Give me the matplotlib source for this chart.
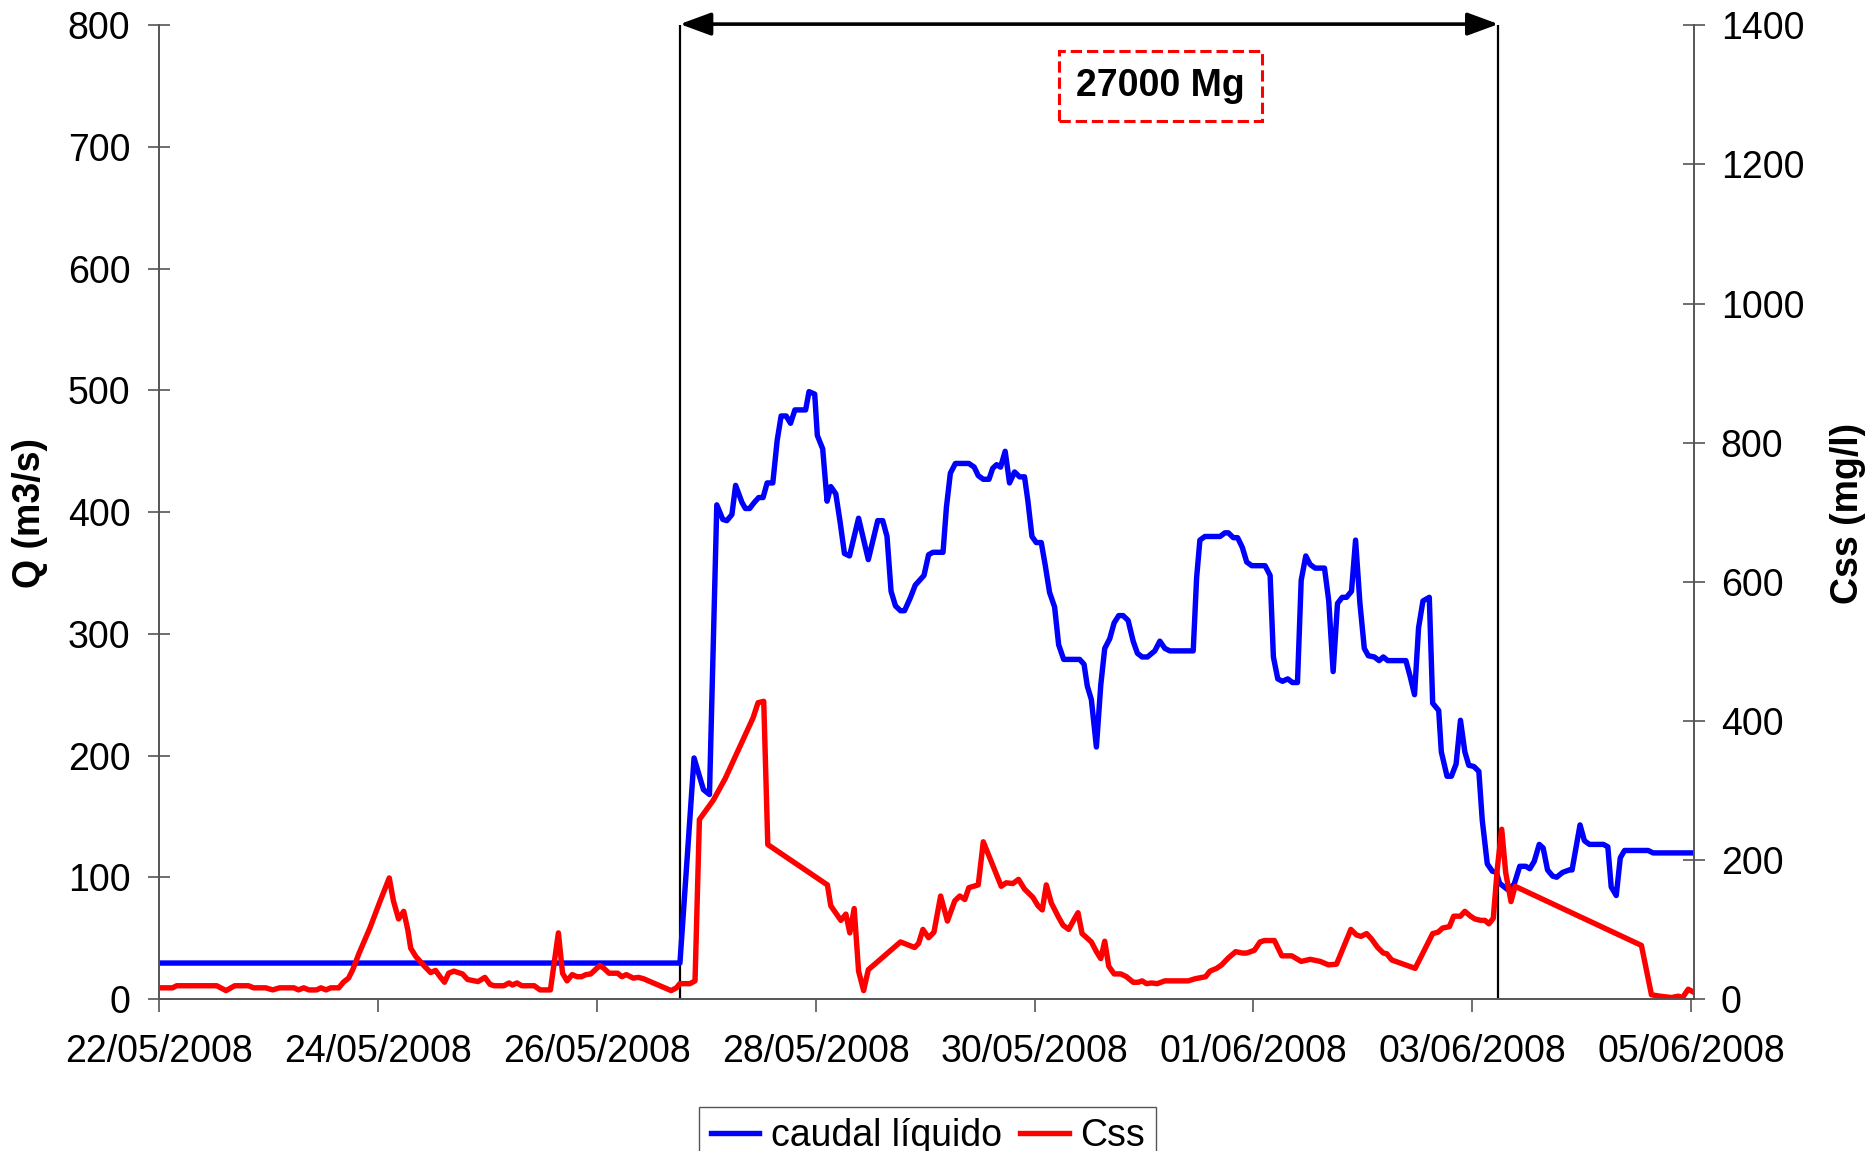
import matplotlib
matplotlib.use("Agg")
import matplotlib.pyplot as plt

plt.rcParams['font.family'] = ['Liberation Sans', 'DejaVu Sans']

# days since 22/05/2008
q_days = [0.0, 4.758, 4.887, 4.973, 5.028, 5.095, 5.150, 5.187, 5.233, 5.267, 5.325, 5.356,
          5.395, 5.438, 5.478, 5.518, 5.555, 5.607, 5.647, 5.683, 5.729, 5.769, 5.809, 5.907,
          5.938, 5.990, 6.014, 6.063, 6.103, 6.137, 6.183, 6.222, 6.262, 6.308, 6.391, 6.480,
          6.566, 6.612, 6.651, 6.688, 6.728, 6.774, 6.811, 6.866, 6.909, 6.949, 6.989, 7.031,
          7.071, 7.163, 7.194, 7.230, 7.276, 7.399, 7.448, 7.485, 7.531, 7.583, 7.617, 7.653,
          7.689, 7.731, 7.771, 7.817, 7.863, 7.908, 7.939, 7.976, 8.015, 8.061, 8.098, 8.137,
          8.183, 8.220, 8.266, 8.412, 8.452, 8.482, 8.519, 8.565, 8.605, 8.641, 8.687, 8.727,
          8.769, 8.809, 8.855, 8.901, 8.940, 8.983, 9.032, 9.099, 9.145, 9.191, 9.237, 9.450,
          9.481, 9.511, 9.557, 9.695, 9.740, 9.771, 9.817, 9.856, 9.899, 9.939, 9.985, 10.107,
          10.153, 10.183, 10.223, 10.266, 10.314, 10.357, 10.403, 10.437, 10.479, 10.519,
          10.565, 10.650, 10.689, 10.729, 10.769, 10.812, 10.851, 10.897, 10.934, 10.974,
          11.014, 11.051, 11.106, 11.149, 11.188, 11.228, 11.394, 11.433, 11.473, 11.510,
          11.550, 11.608, 11.639, 11.694, 11.718, 11.770, 11.810, 11.853, 11.893, 11.933,
          11.969, 12.015, 12.061, 12.092, 12.138, 12.184, 12.221, 12.251, 12.322, 12.383,
          12.435, 12.490, 12.527, 12.567, 12.613, 12.649, 12.689, 12.735, 12.772, 12.827,
          12.888, 12.913, 12.986, 13.026, 13.072, 13.200, 13.240, 13.271, 13.317, 13.354,
          13.393, 13.608, 13.654, 13.715, 14.021]
q_values = [29.5, 29.5, 198, 172, 168, 406, 394, 393, 398, 422, 408, 403,
            403, 408, 412, 412, 424, 424, 459, 479, 479, 473, 484, 484,
            499, 497, 463, 452, 409, 421, 415, 392, 366, 364, 395, 361,
            393, 393, 380, 335, 323, 319, 319, 330, 340, 344, 348, 365,
            367, 367, 404, 432, 440, 440, 437, 430, 427, 427, 436, 439,
            437, 450, 424, 433, 429, 429, 409, 380, 375, 375, 356, 334,
            322, 291, 279, 279, 275, 257, 246, 207, 258, 288, 296, 309,
            315, 315, 311, 294, 284, 281, 281, 286, 294, 288, 286, 286,
            346, 377, 380, 380, 383, 383, 379, 379, 371, 359, 356, 356,
            348, 281, 263, 261, 263, 260, 260, 344, 364, 357,
            354, 354, 327, 269, 325, 330, 330, 335, 377, 325,
            288, 282, 281, 278, 281, 278, 278, 265, 250, 305,
            327, 330, 243, 237, 203, 183, 183, 193, 229, 203,
            192, 191, 187, 147, 111, 105, 104, 95, 90, 94,
            109, 109, 107, 113, 127, 124, 106, 101, 100, 104,
            106, 106, 143, 130, 127, 127, 125, 92, 85, 116,
            122, 122, 120, 120, 120]

css_days = [0.0, 0.12, 0.158, 0.524, 0.609, 0.688, 0.814, 0.861, 0.972, 1.035, 1.098, 1.230,
            1.271, 1.319, 1.366, 1.438, 1.476, 1.524, 1.565, 1.640, 1.681, 1.729, 1.767, 1.823,
            1.924, 2.013, 2.101, 2.139, 2.186, 2.233, 2.271, 2.297, 2.344, 2.423, 2.479, 2.524,
            2.565, 2.606, 2.644, 2.691, 2.770, 2.817, 2.912, 2.975, 3.022, 3.060, 3.148, 3.196,
            3.227, 3.268, 3.312, 3.426, 3.480, 3.574, 3.647, 3.685, 3.726, 3.773, 3.817, 3.858,
            3.899, 3.943, 3.984, 4.025, 4.063, 4.110, 4.189, 4.227, 4.268, 4.331, 4.379, 4.426,
            4.678, 4.726, 4.757, 4.850, 4.896, 4.936, 5.064, 5.172, 5.426, 5.472, 5.524, 5.561,
            6.106, 6.137, 6.229, 6.275, 6.311, 6.351, 6.391, 6.437, 6.480, 6.774, 6.903, 6.940,
            6.979, 7.031, 7.080, 7.141, 7.203, 7.270, 7.316, 7.362, 7.399, 7.485, 7.531, 7.695,
            7.740, 7.802, 7.853, 7.908, 7.985, 8.031, 8.070, 8.107, 8.153, 8.214, 8.260, 8.312,
            8.360, 8.397, 8.434, 8.519, 8.565, 8.605, 8.641, 8.678, 8.727, 8.788, 8.840, 8.901,
            8.947, 8.983, 9.023, 9.069, 9.121, 9.191, 9.405, 9.466, 9.563, 9.603, 9.664, 9.710,
            9.771, 9.838, 9.899, 9.939, 10.009, 10.061, 10.101, 10.192, 10.260, 10.351, 10.437,
            10.519, 10.611, 10.687, 10.760, 10.891, 10.943, 10.983, 11.035, 11.081, 11.136,
            11.188, 11.219, 11.265, 11.479, 11.639, 11.688, 11.730, 11.792, 11.831, 11.893,
            11.933, 11.985, 12.025, 12.077, 12.116, 12.153, 12.193, 12.230, 12.270, 12.306,
            12.355, 12.392, 13.547, 13.639, 13.715, 13.822, 13.884, 13.923, 13.975, 14.021]
css_values = [16, 16, 19, 19, 12, 19, 19, 16, 16, 13, 16, 16,
              13, 16, 13, 13, 16, 13, 16, 16, 24, 30, 42, 65,
              102, 139, 174, 141, 115, 126, 99, 73, 61, 47, 38, 41,
              32, 24, 37, 40, 36, 28, 25, 31, 21, 19, 19, 23,
              20, 23, 19, 19, 13, 13, 95, 37, 26, 35, 32, 32,
              35, 36, 42, 48, 44, 37, 37, 32, 35, 30, 31, 29,
              12, 16, 22, 22, 26, 258, 286, 317, 404, 426, 428, 222,
              164, 134, 113, 122, 95, 130, 40, 12, 42, 82, 74, 80,
              100, 88, 96, 148, 112, 141, 148, 143, 160, 164, 226, 162,
              167, 166, 172, 158, 146, 134, 128, 164, 138, 119, 106, 100,
              114, 124, 94, 82, 68, 58, 83, 47, 36, 36, 32, 24,
              24, 26, 22, 23, 22, 26, 26, 29, 32, 40, 44, 49,
              59, 68, 66, 66, 70, 82, 84, 84, 62, 62, 54,
              57, 54, 49, 50, 100, 92, 90, 94, 86, 74,
              66, 65, 56, 44, 94, 96, 102, 104, 119, 119,
              126, 119, 115, 113, 113, 108, 116, 188, 244, 182,
              140, 162, 77, 6, 4, 2, 4, 2, 14, 10]

date_ticks = [0, 2, 4, 6, 8, 10, 12, 14]
date_labels = ['22/05/2008', '24/05/2008', '26/05/2008', '28/05/2008',
               '30/05/2008', '01/06/2008', '03/06/2008', '05/06/2008']
event_start = 4.758
event_end = 12.24
load_text = '27000 Mg'

fs = 27
axis_col = '#555555'

fig = plt.figure(figsize=(18.69, 11.51), dpi=100)
ax = fig.add_axes([0.0853, 0.1321, 0.9065 - 0.0853, 0.978 - 0.1321])
ax2 = ax.twinx()

ax.vlines([event_start, event_end], 0, 800, color='black', lw=1.6, zorder=1)
l1, = ax.plot(q_days, q_values, color='#0000ff', lw=3.9, label='caudal líquido', zorder=2)
l2, = ax2.plot(css_days, css_values, color='#ff0000', lw=3.9, label='Css', zorder=2)

ax.set_xlim(0, 14.03)
ax.set_ylim(0, 800)
ax2.set_ylim(0, 1400)
ax.set_yticks(range(0, 801, 100))
ax2.set_yticks(range(0, 1401, 200))
ax.set_xticks(date_ticks)
ax.set_xticklabels(date_labels)

for a in (ax, ax2):
    a.spines['top'].set_visible(False)
    for s in ('left', 'right', 'bottom'):
        a.spines[s].set_color(axis_col)
        a.spines[s].set_linewidth(1.2)
ax.tick_params(axis='y', direction='inout', length=16, width=1.2, color=axis_col,
               labelsize=fs, pad=13)
ax2.tick_params(axis='y', direction='inout', length=16, width=1.2, color=axis_col,
                labelsize=fs, pad=11)
ax.tick_params(axis='x', direction='out', length=9, width=1.2, color=axis_col,
               labelsize=fs, pad=16)

fig.text(30 / 1869, 0.554, 'Q (m3/s)', rotation=90, fontsize=fs, fontweight='bold',
         ha='center', va='center')
fig.text(1848 / 1869, 0.554, 'Css (mg/l)', rotation=90, fontsize=fs, fontweight='bold',
         ha='center', va='center')

# event arrow and total load box
ax.annotate('', xy=(event_end, 801), xytext=(event_start, 801),
            arrowprops=dict(arrowstyle='<|-|>,head_length=1.9,head_width=0.7',
                            mutation_scale=10, color='black', lw=2.6,
                            shrinkA=0, shrinkB=0),
            annotation_clip=False)
ax.text(9.15, 750, load_text, fontsize=fs, fontweight='bold', ha='center', va='center',
        bbox=dict(boxstyle='square,pad=0.45', facecolor='white', edgecolor='#ff0000',
                  lw=2.2, linestyle='--'))

fig.legend(handles=[l1, l2], loc='upper center', bbox_to_anchor=(0.4965, 0.0385),
           ncol=2, fontsize=fs, frameon=True, fancybox=False, edgecolor=axis_col,
           framealpha=1, borderaxespad=0, handlelength=1.3, handletextpad=0.3,
           columnspacing=0.5, borderpad=0.3)

fig.savefig('out.png', dpi=100)
